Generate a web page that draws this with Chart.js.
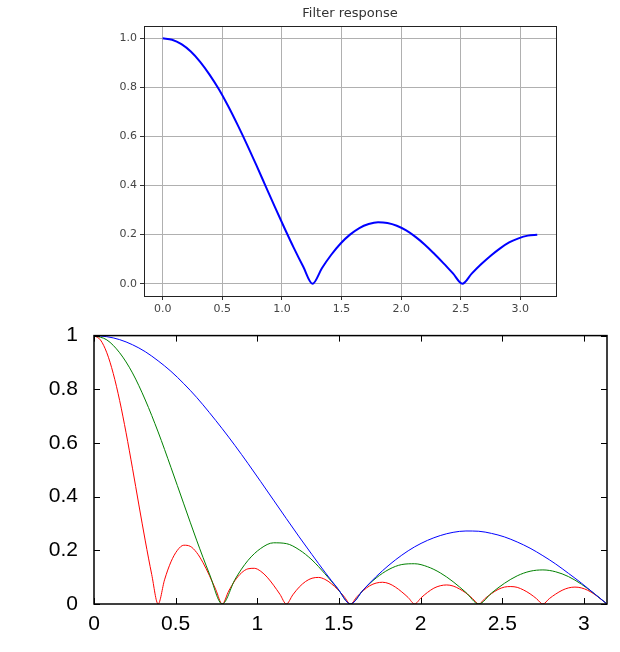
<!DOCTYPE html>
<html><head><meta charset="utf-8">
<script src="https://cdn.jsdelivr.net/npm/chart.js@4/dist/chart.umd.min.js"></script>
<style>
html,body{margin:0;padding:0;background:#fff;width:620px;height:652px;overflow:hidden}
.w{position:absolute;left:0;width:620px}
</style></head><body>
<div class="w" style="top:0;height:318px"><canvas id="c1"></canvas></div>
<div class="w" style="top:315px;height:337px"><canvas id="c2"></canvas></div>
<script>
// ---- data ----
const topTitle = "Filter response";
const topXTicks = [0,0.5,1,1.5,2,2.5,3];
const topYTicks = [0,0.2,0.4,0.6,0.8,1.0];
const botXTicks = [0,0.5,1,1.5,2,2.5,3];
const botYTicks = [0,0.2,0.4,0.6,0.8,1];
const coarseStep = Math.PI/40;   // sample spacing of the top curve and blue/green curves
const fineStep = Math.PI/80;     // sample spacing of the red curve
const topResponse = [1,0.994,0.976,0.946,0.904,0.852,0.792,0.723,0.647,0.567,0.483,0.397,0.311,0.227,0.146,0.070,0,
 0.063,0.118,0.164,0.200,0.227,0.243,0.250,0.247,0.236,0.217,0.191,0.159,0.122,0.083,0.042,0,
 0.041,0.079,0.113,0.143,0.168,0.185,0.196,0.200];
const blueResponse = [1,0.996,0.985,0.966,0.940,0.906,0.867,0.821,0.770,0.713,0.653,0.590,0.524,0.456,0.387,0.318,0.250,0.184,0.119,0.058,0,
 0.053,0.102,0.145,0.182,0.213,0.237,0.255,0.267,0.272,0.271,0.263,0.250,0.231,0.208,0.180,0.149,0.114,0.078,0.039,0];
const greenResponse = [1,0.984,0.936,0.861,0.760,0.641,0.509,0.373,0.238,0.112,0,
 0.092,0.162,0.207,0.228,0.225,0.202,0.164,0.113,0.057,0,
 0.053,0.097,0.129,0.147,0.150,0.139,0.116,0.083,0.043,0,
 0.041,0.077,0.105,0.122,0.127,0.120,0.102,0.074,0.039,0];
const redResponse = [1,0.984,0.936,0.859,0.758,0.638,0.506,0.369,0.235,0.110,0,
 0.090,0.157,0.200,0.219,0.215,0.192,0.154,0.106,0.053,0,
 0.048,0.088,0.116,0.131,0.133,0.122,0.100,0.070,0.036,0,
 0.034,0.063,0.084,0.096,0.099,0.092,0.076,0.054,0.028,0,
 0.027,0.050,0.068,0.078,0.081,0.076,0.063,0.045,0.024,0,
 0.023,0.043,0.059,0.068,0.071,0.067,0.056,0.041,0.021,0,
 0.021,0.039,0.054,0.063,0.065,0.062,0.052,0.038,0.020,0,
 0.020,0.037,0.051,0.060,0.063,0.060,0.051,0.037,0.019,0];

const pts = (arr, step) => arr.map((v,i)=>({x:i*step, y:v}));

// ---- top chart ----
const sans = "'DejaVu Sans', sans-serif";
const frame1 = {id:'frame1', afterDraw(ch){const a=ch.chartArea,c=ch.ctx;c.save();c.strokeStyle='#222';c.lineWidth=1;
  c.strokeRect(Math.round(a.left)+0.5,Math.round(a.top)+0.5,Math.round(a.right-a.left),Math.round(a.bottom-a.top));
  c.fillStyle='#333';c.font="13px "+sans;c.textAlign='center';c.textBaseline='middle';c.fillText(topTitle,(a.left+a.right)/2,14);c.restore();}};
new Chart(document.getElementById('c1'),{
  type:'line',
  data:{datasets:[{data:pts(topResponse,coarseStep),borderColor:'#0000ff',borderWidth:2,pointRadius:0,cubicInterpolationMode:'monotone'}]},
  options:{responsive:true,maintainAspectRatio:false,animation:false,
    layout:{padding:{top:26,right:64,left:0,bottom:0}},
    plugins:{legend:{display:false},tooltip:{enabled:false}},
    scales:{
      x:{type:'linear',min:-0.157,max:3.299,afterBuildTicks:s=>{s.ticks=topXTicks.map(v=>({value:v}));},
        afterFit:s=>{s.height=22;},
        grid:{color:'#b0b0b0',tickColor:'#333',tickLength:4},border:{display:false},
        ticks:{color:'#444',font:{size:11,family:sans},padding:3,maxRotation:0,callback:v=>v.toFixed(1)}},
      y:{type:'linear',min:-0.05,max:1.05,afterBuildTicks:s=>{s.ticks=topYTicks.map(v=>({value:v}));},
        afterFit:s=>{s.width=144;},
        grid:{color:'#b0b0b0',tickColor:'#333',tickLength:4},border:{display:false},
        ticks:{color:'#444',font:{size:11,family:sans},padding:3,callback:v=>v.toFixed(1)}}
    }},
  plugins:[frame1]
});

// ---- bottom chart ----
const arial = "'Liberation Sans', Arial, sans-serif";
const frame2 = {id:'frame2', afterDraw(ch){const a=ch.chartArea,c=ch.ctx,xs=ch.scales.x,ys=ch.scales.y;c.save();c.strokeStyle='#000';c.lineWidth=1.5;
  c.strokeRect(a.left,a.top,a.right-a.left,a.bottom-a.top);c.lineWidth=1;c.beginPath();
  botXTicks.forEach(v=>{const p=Math.round(xs.getPixelForValue(v))+0.5;c.moveTo(p,a.bottom);c.lineTo(p,a.bottom-6);c.moveTo(p,a.top);c.lineTo(p,a.top+6);});
  botYTicks.forEach(v=>{const p=Math.round(ys.getPixelForValue(v))+0.5;c.moveTo(a.left,p);c.lineTo(a.left+6,p);c.moveTo(a.right,p);c.lineTo(a.right-6,p);});
  c.stroke();c.restore();}};
new Chart(document.getElementById('c2'),{
  type:'line',
  data:{datasets:[
    {data:pts(blueResponse,coarseStep),borderColor:'#0000ff',borderWidth:1,pointRadius:0,cubicInterpolationMode:'monotone'},
    {data:pts(greenResponse,coarseStep),borderColor:'#008000',borderWidth:1,pointRadius:0,cubicInterpolationMode:'monotone'},
    {data:pts(redResponse,fineStep),borderColor:'#ff0000',borderWidth:1,pointRadius:0,cubicInterpolationMode:'monotone'}]},
  options:{responsive:true,maintainAspectRatio:false,animation:false,
    layout:{padding:{top:18,right:13,left:0,bottom:0}},
    plugins:{legend:{display:false},tooltip:{enabled:false}},
    scales:{
      x:{type:'linear',min:0,max:Math.PI,afterBuildTicks:s=>{s.ticks=botXTicks.map(v=>({value:v}));},
        afterFit:s=>{s.height=48;},
        grid:{display:false},border:{display:false},
        ticks:{color:'#000',font:{size:21,family:arial},padding:0,maxRotation:0,callback:v=>String(v)}},
      y:{type:'linear',min:0,max:1,afterBuildTicks:s=>{s.ticks=botYTicks.map(v=>({value:v}));},
        afterFit:s=>{s.width=94;},
        grid:{display:false},border:{display:false},
        ticks:{color:'#000',font:{size:21,family:arial},padding:8,callback:v=>String(v)}}
    }},
  plugins:[frame2]
});
</script></body></html>
